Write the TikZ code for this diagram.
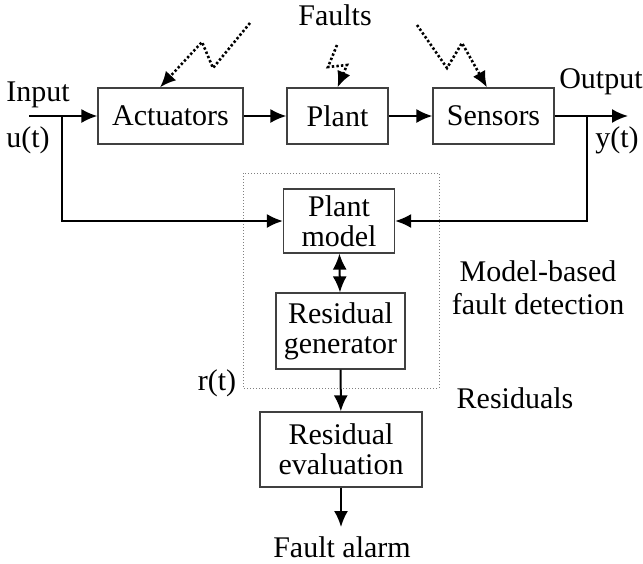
\documentclass[tikz,border=0pt]{standalone}
\usepackage{fontspec}
\setmainfont{Liberation Serif}
\usetikzlibrary{arrows.meta}

\tikzset{
    blk/.style={draw={rgb:black,3;white,1}, line width=0.6pt, inner sep=0pt, align=center,
        font=\fontsize{15pt}{15pt}\selectfont},
    lbl/.style={inner sep=0pt, align=center, font=\fontsize{15pt}{16.5pt}\selectfont},
    sig/.style={line width=1pt, -{Latex[length=8pt,width=7pt]}},
    fault/.style={line width=1.3pt, dash pattern=on 1.2pt off 1.1pt, -{Latex[length=8pt,width=7pt]}},
    detbox/.style={draw={rgb:black,2;white,2}, line width=0.5pt, densely dotted}
}

\begin{document}
\begin{tikzpicture}[x=0.5pt, y=-0.5pt]

        \useasboundingbox (0,0) rectangle (643,563);

        % main loop
        \node [blk, minimum width=72.5pt, minimum height=28pt] (act) at (170.5,116) {Actuators};
        \node [blk, minimum width=50.5pt, minimum height=28pt] (plant) at (337.5,116) {Plant};
        \node [blk, minimum width=60.5pt, minimum height=28pt] (sen) at (493.5,116) {Sensors};

        % detection part
        \draw [detbox] (243,173) rectangle (439,388);
        \node [blk, minimum width=55.5pt, minimum height=32pt] (pm) at (339,221) {Plant\\model};
        \node [blk, minimum width=64.5pt, minimum height=38pt] (rg) at (340.5,331) {Residual\\generator};
        \node [blk, minimum width=81pt, minimum height=37.5pt] (re) at (341,449.5) {Residual\\evaluation};

        \coordinate (uin) at (29,116);
        \coordinate (uj) at (62,116);
        \coordinate (yout) at (628,116);
        \coordinate (yj) at (587,116);
        \coordinate (fa) at (341,527);

        \draw [sig] (uin) -- (act);
        \draw [sig] (act) -- (plant);
        \draw [sig] (plant) -- (sen);
        \draw [sig] (sen) -- (yout);

        \draw [sig] (uj) |- (pm);
        \draw [sig] (yj) |- (pm);

        \draw [sig, {Latex[length=8pt,width=7pt]}-{Latex[length=8pt,width=7pt]}] (pm) -- (rg);
        \draw [sig] (rg) -- (re);
        \draw [sig] (re) -- (fa);

        % faults
        \draw [fault] (250,23) -- (213,68) -- (202,42) -- ([xshift=-5.25pt]act.north);
        \draw [fault] (337,45) -- (328,67) -- (347,65) -- (plant.north);
        \draw [fault] (417,25) -- (447,68) -- (462,43) -- ([xshift=-3.25pt]sen.north);

        % texts
        \node [lbl] (faults) at (335,15) {Faults};
        \node [lbl] (input) at (38,95) {Input};
        \node [lbl] (ut) at (28,140) {u(t)};
        \node [lbl] (output) at (601,82) {Output};
        \node [lbl] (yt) at (617,140) {y(t)};
        \node [lbl] (mbfd) at (538,288) {Model-based\\fault detection};
        \node [lbl] (rt) at (217,383) {r(t)};
        \node [lbl] (resid) at (515,398) {Residuals};
        \node [lbl] (alarm) at (342,547) {Fault alarm};

    \end{tikzpicture}
\end{document}
